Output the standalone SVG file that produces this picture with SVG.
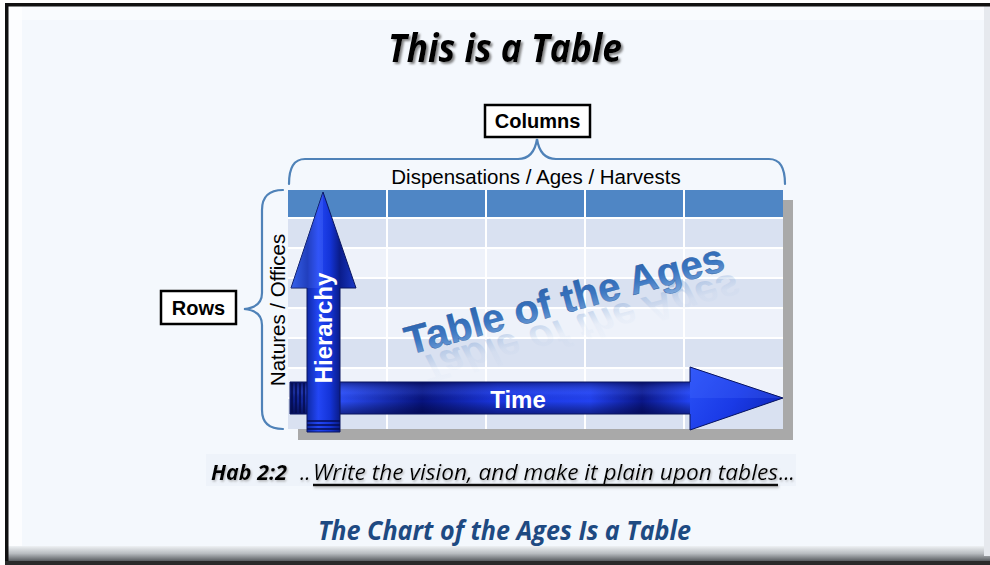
<svg xmlns="http://www.w3.org/2000/svg" width="990" height="565" viewBox="0 0 990 565">
  <defs>
    <style>
      .sans { font-family: "Liberation Sans", Arial, sans-serif; }
      .cal { font-family: "Open Sans", "Liberation Sans", sans-serif; }
      .lbl { font-family: "Liberation Sans", Arial, sans-serif; font-weight: bold; font-size: 20px; fill: #000; text-anchor: middle; }
      .box { fill: #ffffff; stroke: #000; stroke-width: 2.5; }
      .brace { fill: none; stroke: #4f82b8; stroke-width: 2.2; stroke-linecap: round; }
      .sep { stroke: #ffffff; stroke-width: 2; }
      .light { fill: #d9e1f1; }
      .pale { fill: #eef2fa; }
      .arrowtxt { font-family: "Liberation Sans", Arial, sans-serif; font-weight: bold; font-size: 24px; fill: #ffffff; text-anchor: middle; }
    </style>
    <filter id="shadow" x="-10%" y="-30%" width="120%" height="160%">
      <feDropShadow dx="2" dy="2" stdDeviation="1.2" flood-color="#666" flood-opacity="0.8"/>
    </filter>
    <filter id="softshadow" x="-10%" y="-30%" width="120%" height="160%">
      <feDropShadow dx="1" dy="1.5" stdDeviation="1" flood-color="#888" flood-opacity="0.6"/>
    </filter>
    <linearGradient id="bottomBevel" x1="0" y1="0" x2="0" y2="1">
      <stop offset="0" stop-color="#eef1f4"/>
      <stop offset="0.5" stop-color="#b8bcc0"/>
      <stop offset="1" stop-color="#5a5e62"/>
    </linearGradient>
    <linearGradient id="hierGrad" gradientUnits="userSpaceOnUse" x1="291" y1="0" x2="356" y2="0">
      <stop offset="0" stop-color="#2a58e6"/>
      <stop offset="0.25" stop-color="#0e2aa8"/>
      <stop offset="0.42" stop-color="#2346f5"/>
      <stop offset="0.6" stop-color="#1434d8"/>
      <stop offset="0.75" stop-color="#0a1c8a"/>
      <stop offset="1" stop-color="#1a38c8"/>
    </linearGradient>
    <linearGradient id="timeGrad" gradientUnits="userSpaceOnUse" x1="290" y1="0" x2="690" y2="0">
      <stop offset="0" stop-color="#0a1a80"/>
      <stop offset="0.13" stop-color="#2a4cf4"/>
      <stop offset="0.33" stop-color="#07137e"/>
      <stop offset="0.52" stop-color="#1a36e0"/>
      <stop offset="0.75" stop-color="#2242f2"/>
      <stop offset="0.88" stop-color="#0a1688"/>
      <stop offset="1" stop-color="#2244f4"/>
    </linearGradient>
    <linearGradient id="timeShade" x1="0" y1="0" x2="0" y2="1">
      <stop offset="0" stop-color="#000030" stop-opacity="0.45"/>
      <stop offset="0.35" stop-color="#6080ff" stop-opacity="0.15"/>
      <stop offset="0.6" stop-color="#000000" stop-opacity="0"/>
      <stop offset="1" stop-color="#000030" stop-opacity="0.5"/>
    </linearGradient>
    <linearGradient id="timeHead" gradientUnits="userSpaceOnUse" x1="690" y1="367" x2="783" y2="430">
      <stop offset="0" stop-color="#2a52f8"/>
      <stop offset="0.5" stop-color="#1a3ae6"/>
      <stop offset="1" stop-color="#0c22b0"/>
    </linearGradient>
    <linearGradient id="agesGrad" x1="0" y1="0" x2="0" y2="1">
      <stop offset="0" stop-color="#2a5fa8"/>
      <stop offset="0.55" stop-color="#3a76c2"/>
      <stop offset="1" stop-color="#7aa5da"/>
    </linearGradient>
    <linearGradient id="reflGrad" x1="0" y1="0" x2="0" y2="1">
      <stop offset="0" stop-color="#4a7fc4" stop-opacity="0"/>
      <stop offset="0.5" stop-color="#4a7fc4" stop-opacity="0.04"/>
      <stop offset="0.8" stop-color="#4a7fc4" stop-opacity="0.22"/>
      <stop offset="1" stop-color="#4a7fc4" stop-opacity="0.28"/>
    </linearGradient>
  </defs>

  <!-- slide frame -->
  <g id="frame">
    <rect x="0" y="0" width="990" height="565" fill="#ffffff"/>
    <rect x="8" y="6" width="982" height="550" fill="#f4f8fd"/>
    <rect x="8" y="6" width="982" height="14" fill="#f9fbfe"/>
    <rect x="8" y="6" width="14" height="545" fill="#ffffff" opacity="0.7"/>
    <rect x="8" y="546" width="982" height="15" fill="url(#bottomBevel)"/>
    <rect x="984" y="6" width="6" height="550" fill="#e6e9ee"/>
    <rect x="5" y="3" width="985" height="3.5" fill="#111"/>
    <rect x="5" y="3" width="3.5" height="562" fill="#111"/>
    <rect x="5" y="561" width="985" height="4" fill="#2a2a2a"/>
  </g>

  <g id="title">
    <text class="cal" x="388" y="62" textLength="234" lengthAdjust="spacingAndGlyphs" font-size="39" font-weight="bold" font-style="italic" fill="#000" filter="url(#shadow)">This is a Table</text>
  </g>

  <g id="columns-label">
    <rect class="box" x="485" y="105" width="105" height="32"/>
    <text class="lbl" x="537.5" y="128">Columns</text>
  </g>

  <g id="rows-label">
    <rect class="box" x="161" y="291" width="75" height="33"/>
    <text class="lbl" x="198.5" y="315">Rows</text>
  </g>

  <g id="connectors">
    <path class="brace" d="M289,184 C289,168 294,159 305,159 L518,159 C529,159 535,152 537,139 C539,152 545,159 556,159 L769,159 C780,159 785,168 785,184"/>
    <path class="brace" d="M283,190 C270,190 262,196 262,210 L262,293 C262,302 256,308 244,309 C256,310 262,316 262,325 L262,410 C262,423 270,429 283,429"/>
  </g>

  <g id="column-header-text">
    <text class="sans" x="536" y="184" font-size="20.5" text-anchor="middle" fill="#000">Dispensations / Ages / Harvests</text>
  </g>

  <g id="row-header-text">
    <text class="sans" transform="translate(285,310) rotate(-90)" font-size="20.5" text-anchor="middle" fill="#000">Natures / Offices</text>
  </g>

  <g id="table">
    <rect x="298" y="200" width="495" height="240" fill="#a9a9a9"/>
    <rect x="288" y="190" width="495" height="28" fill="#4f86c5"/>
    <rect class="light" x="288" y="218" width="495" height="30"/>
    <rect class="pale" x="288" y="248" width="495" height="30"/>
    <rect class="light" x="288" y="278" width="495" height="30"/>
    <rect class="pale" x="288" y="308" width="495" height="30"/>
    <rect class="light" x="288" y="338" width="495" height="30"/>
    <rect class="pale" x="288" y="368" width="495" height="30"/>
    <rect class="light" x="288" y="398" width="495" height="31"/>
    <line class="sep" x1="288" y1="218" x2="783" y2="218"/>
    <line class="sep" x1="288" y1="248" x2="783" y2="248"/>
    <line class="sep" x1="288" y1="278" x2="783" y2="278"/>
    <line class="sep" x1="288" y1="308" x2="783" y2="308"/>
    <line class="sep" x1="288" y1="338" x2="783" y2="338"/>
    <line class="sep" x1="288" y1="368" x2="783" y2="368"/>
    <line class="sep" x1="288" y1="398" x2="783" y2="398"/>
    <line class="sep" x1="387" y1="190" x2="387" y2="429"/>
    <line class="sep" x1="486" y1="190" x2="486" y2="429"/>
    <line class="sep" x1="585" y1="190" x2="585" y2="429"/>
    <line class="sep" x1="684" y1="190" x2="684" y2="429"/>
  </g>

  <g id="table-of-the-ages">
    <g transform="translate(409,355) rotate(-15)">
      <text class="sans" x="0" y="0" transform="translate(6,5) scale(1,-1) skewX(-12)" font-size="40" font-weight="bold" fill="url(#reflGrad)">Table of the Ages</text>
      <text class="sans" x="0" y="0" font-size="40" font-weight="bold" fill="url(#agesGrad)" stroke="#2a5a9c" stroke-width="0.4">Table of the Ages</text>
    </g>
  </g>

  <g id="time-arrow">
    <path d="M290,382 L690,382 L690,367 L783,398 L690,430 L690,414 L290,414 Z" fill="url(#timeGrad)"/>
    <path d="M690,367 L783,398 L690,430 Z" fill="url(#timeHead)"/>
    <rect x="290" y="382" width="400" height="32" fill="url(#timeShade)"/>
    <path d="M690,367 L783,398 L690,398 Z" fill="#4a70ff" opacity="0.25"/>
    <path d="M290,382 L690,382 L690,367 L783,398 L690,430 L690,414 L290,414 Z" fill="none" stroke="#0a1660" stroke-width="1"/>
    <g stroke="#050d50" stroke-width="1.6">
      <line x1="292" y1="383" x2="292" y2="413"/>
      <line x1="296" y1="383" x2="296" y2="413"/>
      <line x1="300" y1="383" x2="300" y2="413"/>
      <line x1="304" y1="383" x2="304" y2="413"/>
    </g>
    <text class="arrowtxt" x="518" y="408">Time</text>
  </g>

  <g id="hierarchy-arrow">
    <path d="M307,432 L307,288 L291,288 L323,192 L356,288 L340,288 L340,432 Z" fill="url(#hierGrad)" stroke="#0a1660" stroke-width="1"/>
    <path d="M323,192 L291,288 L323,288 Z" fill="#5a80ff" opacity="0.25"/>
    <g stroke="#050d50" stroke-width="1.6">
      <line x1="307" y1="421" x2="340" y2="421"/>
      <line x1="307" y1="425" x2="340" y2="425"/>
      <line x1="307" y1="429" x2="340" y2="429"/>
    </g>
    <text class="arrowtxt" transform="translate(332,328) rotate(-90)" font-size="23">Hierarchy</text>
  </g>

  <g id="verse">
    <rect x="206" y="454" width="590" height="32" fill="#eef3fa"/>
    <g filter="url(#softshadow)">
      <text class="cal" x="211" y="480" textLength="76" lengthAdjust="spacingAndGlyphs" font-size="21" font-weight="bold" font-style="italic" fill="#000">Hab 2:2</text>
      <text class="cal" x="300" y="480" font-size="21" font-style="italic" fill="#000">..</text>
      <text class="cal" x="313" y="480" textLength="465" lengthAdjust="spacingAndGlyphs" font-size="21" font-style="italic" fill="#000">Write the vision, and make it plain upon tables</text>
      <text class="cal" x="779" y="480" font-size="21" font-style="italic" fill="#000">...</text>
      <line x1="313" y1="485" x2="778" y2="485" stroke="#111" stroke-width="2.4"/>
    </g>
  </g>

  <g id="caption">
    <text class="cal" x="318" y="540" textLength="373" lengthAdjust="spacingAndGlyphs" font-size="26" font-weight="bold" font-style="italic" fill="#1e4a82">The Chart of the Ages Is a Table</text>
  </g>
</svg>
